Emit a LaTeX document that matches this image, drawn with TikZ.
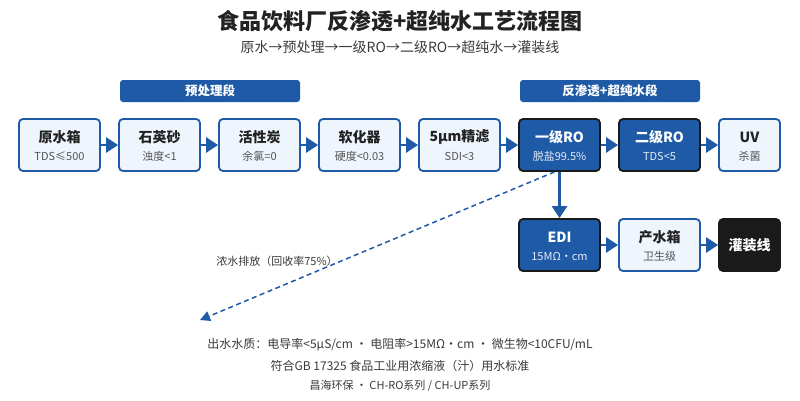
\documentclass[tikz,border=0pt]{standalone}
\usepackage{fontspec}
\setmainfont{Noto Sans CJK SC}
\usetikzlibrary{arrows.meta}
\definecolor{mblue}{HTML}{1F5AA6}
\definecolor{lfill}{HTML}{EEF5FD}
\definecolor{dk}{HTML}{1A1A1A}
\definecolor{txt}{HTML}{222222}
\definecolor{subc}{HTML}{555555}
\definecolor{gtxt}{HTML}{3A3A3A}
\definecolor{dsub}{HTML}{E3ECF8}
\tikzset{
  boxbase/.style={line width=1.8pt, rounded corners=4pt, minimum height=52pt, inner sep=0pt},
  lightbox/.style={boxbase, draw=mblue, fill=lfill},
  darkbox/.style={boxbase, draw=dk, fill=mblue},
  blackbox/.style={boxbase, draw=dk, fill=dk},
  ttlL/.style={text=txt, font=\bfseries\fontsize{14}{14}\selectfont, inner sep=0pt},
  ttlD/.style={text=white, font=\bfseries\fontsize{14}{14}\selectfont, inner sep=0pt},
  subL/.style={text=subc, font=\fontsize{11}{11}\selectfont, inner sep=0pt},
  subD/.style={text=dsub, font=\fontsize{11}{11}\selectfont, inner sep=0pt},
  banner/.style={fill=mblue, rounded corners=3pt, minimum width=180pt, minimum height=22pt, inner sep=0pt, text=white, font=\bfseries\fontsize{12.5}{12.5}\selectfont},
  flow/.style={draw=mblue, line width=2.5pt, -{Triangle[length=12pt,width=15pt]}},
  drainline/.style={draw=mblue, line width=1.5pt, dash pattern=on 5pt off 3.5pt, -{Triangle[length=10pt,width=10pt]}},
  plain/.style={inner sep=0pt}
}
% name, x, y, width, boxstyle, titlestyle, substyle, title, sub
\newcommand\procbox[9]{%
  \node[#5, minimum width=#4] (#1) at (#2,#3) {};
  \node[#6] (#1t) at ([yshift=8pt]#1.center) {#8};
  \node[#7] (#1s) at ([yshift=-11pt]#1.center) {#9};
}
\begin{document}
\begin{tikzpicture}[x=1pt,y=-1pt]
\useasboundingbox[fill=white] (0,0) rectangle (800,400);
% title
\node[plain, text=txt, font=\bfseries\fontsize{22}{22}\selectfont] (title) at (400,21) {食品饮料厂反渗透+超纯水工艺流程图};
\node[plain, text=gtxt, font=\fontsize{14}{14}\selectfont] (subtitle) at (400,47) {原水→预处理→一级RO→二级RO→超纯水→灌装线};
% banners
\node[banner] (b1) at (210,91) {预处理段};
\node[banner] (b2) at (610,91) {反渗透+超纯水段};
% top row
\procbox{p1}{59.5}{145}{81pt}{lightbox}{ttlL}{subL}{原水箱}{TDS≤500}
\procbox{p2}{159.5}{145}{81pt}{lightbox}{ttlL}{subL}{石英砂}{浊度<1}
\procbox{p3}{259.5}{145}{81pt}{lightbox}{ttlL}{subL}{活性炭}{余氯=0}
\procbox{p4}{359.5}{145}{81pt}{lightbox}{ttlL}{subL}{软化器}{硬度<0.03}
\procbox{p5}{459.5}{145}{81pt}{lightbox}{ttlL}{subL}{5μm精滤}{SDI<3}
\procbox{ro1}{559.5}{145}{81pt}{darkbox}{ttlD}{subD}{一级RO}{脱盐99.5\%}
\procbox{ro2}{659.5}{145}{81pt}{darkbox}{ttlD}{subD}{二级RO}{TDS<5}
\procbox{uv}{749.5}{145}{61pt}{lightbox}{ttlL}{subL}{UV}{杀菌}
% second row
\procbox{edi}{559.5}{245}{81pt}{darkbox}{ttlD}{subD}{EDI}{15MΩ・cm}
\procbox{tank}{659.5}{245}{81pt}{lightbox}{ttlL}{subL}{产水箱}{卫生级}
\node[blackbox, minimum width=61pt] (fill) at (749.5,245) {};
\node[ttlD] (fillt) at (fill.center) {灌装线};
% flow arrows
\draw[flow] (p1.east) -- (p2.west);
\draw[flow] (p2.east) -- (p3.west);
\draw[flow] (p3.east) -- (p4.west);
\draw[flow] (p4.east) -- (p5.west);
\draw[flow] (p5.east) -- (ro1.west);
\draw[flow] (ro1.east) -- (ro2.west);
\draw[flow] (ro2.east) -- (uv.west);
\draw[flow] (ro1.south) -- (edi.north);
\draw[flow] (edi.east) -- (tank.west);
\draw[flow] (tank.east) -- (fill.west);
% drain
\coordinate (drain) at (200,320);
\draw[drainline] ([xshift=-5pt]ro1.south) -- (drain);
\node[plain, text=gtxt, font=\fontsize{11}{11}\selectfont] (drainlbl) at (277,261) {浓水排放（回收率75\%）};
% footer
\node[plain, text=gtxt, font=\fontsize{12}{12}\selectfont] (f1) at (400,345) {出水水质：电导率<5μS/cm ・ 电阻率>15MΩ・cm ・ 微生物<10CFU/mL};
\node[plain, text=gtxt, font=\fontsize{12}{12}\selectfont] (f2) at (400,366) {符合GB 17325 食品工业用浓缩液（汁）用水标准};
\node[plain, text=gtxt, font=\fontsize{11}{11}\selectfont] (f3) at (400,386) {昌海环保 ・ CH-RO系列 / CH-UP系列};
\end{tikzpicture}
\end{document}
